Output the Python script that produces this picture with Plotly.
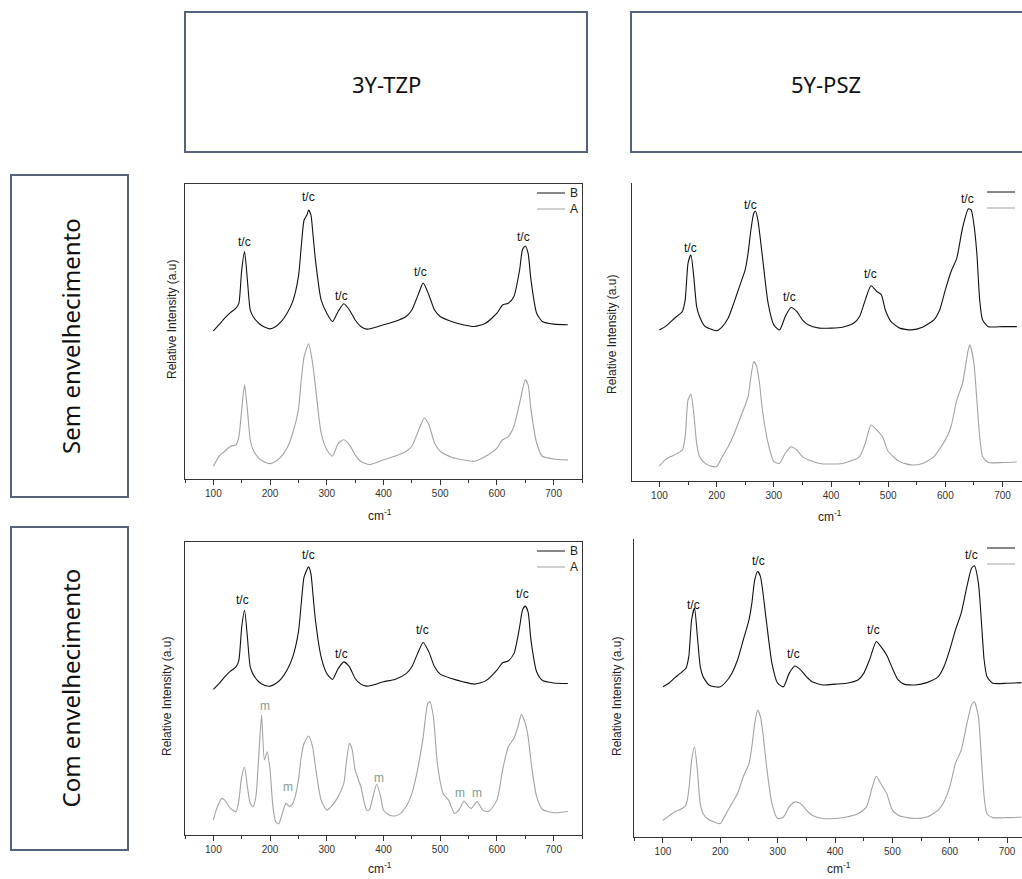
import plotly.graph_objects as go

W, H = 1022, 879

# ---------------- data ----------------
# Panel: 3Y-TZP, sem envelhecimento
tl_b_x = [100,110,120,130,140,145,150,155,160,165,170,180,190,200,210,220,230,240,250,255,260,265,268,272,276,280,290,300,310,320,330,340,350,360,370,380,400,420,440,450,460,470,480,490,500,520,540,560,580,600,610,620,630,640,645,650,655,660,670,680,700,725]
tl_b_y = [50.2,52.3,54.5,56.4,57.9,59.6,70.9,77.1,67.5,57.3,55.1,52.8,51.5,50.9,51.7,53.4,56.2,60.2,68.6,78.8,87.8,89.5,91.2,89.5,82.2,74.3,60.7,56.2,53.4,56.8,59.4,57.3,53.9,51.7,50.8,51.1,52.3,53.4,55.1,57.3,61.9,66.4,62.4,57.3,55.1,53.4,52.3,51.7,52.8,56.2,59.0,59.6,61.9,70.9,77.7,79.0,76.5,67.5,56.2,53.4,52.5,52.3]
tl_a_x = [100,110,120,130,140,145,150,155,160,165,170,180,190,200,210,220,230,240,250,255,260,268,275,280,290,300,310,320,330,340,350,360,375,400,420,440,450,460,472,480,490,500,520,540,560,580,600,610,620,630,640,650,655,660,670,680,700,725]
tl_a_y = [4.3,7.7,9.4,11.1,11.6,14.4,23.5,31.9,23.5,13.3,9.9,7.1,5.8,5.2,6.0,7.7,10.5,15.6,23.5,33.6,41.5,45.8,39.3,31.4,15.6,9.9,7.7,12.0,13.3,11.6,8.2,6.0,4.9,6.5,7.7,9.4,11.1,15.6,20.7,18.4,12.2,9.4,7.4,6.5,6.0,7.7,10.5,13.3,14.4,17.8,25.7,33.6,31.9,23.5,12.2,7.7,6.8,6.5]

# Panel: 5Y-PSZ, sem envelhecimento
tr_b_x = [100,110,120,130,140,145,150,155,160,165,170,180,190,200,210,220,230,240,250,255,260,265,268,272,280,290,300,310,320,330,340,350,360,380,400,420,440,450,460,470,480,488,495,505,520,540,560,580,590,600,610,620,630,640,645,650,655,660,665,675,700,725]
tr_b_y = [50.7,51.8,53.5,55.2,56.9,60.8,73.1,75.9,68.6,58.6,55.2,51.8,51.0,50.4,51.8,54.6,59.7,65.3,70.9,76.5,84.3,89.9,90.5,87.7,75.4,59.7,52.4,50.7,55.2,58.2,56.9,54.1,52.4,51.3,51.3,51.6,53.0,55.2,60.8,65.5,63.6,62.5,57.4,53.5,51.3,50.7,51.6,54.1,57.4,64.2,70.3,74.8,84.9,91.3,91.0,86.0,76.5,60.8,54.1,51.8,51.8,51.8]
tr_a_x = [100,110,120,130,140,145,150,155,160,165,170,180,190,200,210,220,230,240,250,255,260,265,270,275,280,290,300,310,320,330,340,350,360,380,400,420,440,450,460,470,480,490,500,520,540,560,580,600,610,620,630,640,643,650,655,660,665,675,700,725]
tr_a_y = [5.0,7.1,8.2,9.1,10.4,14.9,27.2,29.2,22.7,12.7,8.2,5.9,5.0,4.8,8.2,11.5,15.5,20.5,25.5,28.3,35.1,40.1,38.4,32.8,23.9,12.7,6.5,5.9,9.3,11.5,10.4,8.2,7.1,5.9,5.7,5.9,7.1,8.2,12.7,18.8,17.1,14.9,9.9,6.5,5.4,5.9,8.2,13.8,18.3,27.2,32.8,44.0,45.7,39.4,27.2,14.9,8.2,6.2,6.2,6.4]

# Panel: 3Y-TZP, com envelhecimento
bl_b_x = [100,110,120,130,140,145,150,155,160,165,170,180,190,200,210,220,230,240,250,255,260,268,272,276,280,290,300,310,320,330,340,350,360,370,380,400,420,440,450,460,470,480,490,500,520,540,560,580,600,610,620,630,640,645,650,655,660,670,680,700,725]
bl_b_y = [49.7,51.7,54.0,55.9,57.4,59.7,71.0,76.7,67.6,57.4,54.9,52.3,51.1,50.8,51.7,53.4,56.3,60.8,69.3,79.0,88.1,91.5,89.2,81.3,73.3,60.8,55.1,53.1,56.8,59.1,57.4,53.4,51.5,50.8,51.1,52.3,53.1,55.1,57.4,61.9,65.7,62.5,57.4,54.9,53.4,52.3,51.5,52.6,56.3,58.8,59.4,61.9,71.0,76.7,78.1,76.1,66.5,55.7,52.8,51.9,51.7]
bl_a_x = [100,105,115,120,130,140,145,150,155,160,165,170,175,180,185,190,195,200,205,210,215,220,228,235,240,245,250,255,260,268,275,280,290,300,310,320,330,335,340,345,350,360,370,375,380,388,395,400,410,420,430,440,450,460,470,478,482,488,495,505,515,525,533,542,550,555,565,575,585,600,610,620,630,637,643,650,655,662,670,680,700,725]
bl_a_y = [5.1,8.5,12.5,11.9,9.1,8.0,11.9,19.9,23.1,16.5,10.8,9.7,13.1,26.7,40.9,25.6,28.4,22.2,9.7,4.5,3.8,6.3,10.8,9.7,10.8,13.6,18.8,26.7,31.3,33.8,30.1,23.3,11.9,8.5,10.2,13.1,17.6,25.6,31.3,29.0,22.2,16.5,8.5,8.5,11.9,17.3,13.1,8.5,6.8,6.5,7.4,9.7,14.2,22.2,33.5,44.9,45.5,40.3,24.4,14.2,11.9,7.4,8.5,11.6,9.7,9.1,11.4,8.5,8.0,11.9,22.2,30.1,33.0,36.9,41.1,38.1,33.5,22.2,13.1,8.8,7.6,8.0]

# Panel: 5Y-PSZ, com envelhecimento
br_b_x = [100,110,120,130,140,145,150,155,160,165,170,180,190,200,210,220,230,240,250,255,260,265,270,280,290,300,310,320,330,340,350,360,380,400,420,440,450,460,472,480,490,500,510,520,540,560,580,590,600,610,620,630,638,643,650,655,660,665,675,700,725]
br_b_y = [50.4,51.6,53.3,54.9,56.6,60.5,72.9,76.8,67.3,57.2,53.8,51.0,50.4,50.4,52.1,54.9,59.4,66.1,72.9,78.5,86.3,89.1,87.4,72.9,58.3,51.6,50.4,54.9,57.4,56.1,53.8,52.1,51.0,51.3,51.6,52.7,54.9,59.4,65.6,63.9,61.1,56.6,52.7,51.3,51.0,51.8,53.8,57.2,62.8,69.5,75.1,84.1,90.2,91.0,85.2,72.9,59.4,53.8,51.6,51.6,51.8]
br_a_x = [100,110,120,130,140,145,150,155,160,165,170,180,190,200,210,220,230,240,250,255,260,265,270,275,280,290,300,310,320,330,340,350,360,380,400,420,440,455,465,472,480,490,500,510,520,540,560,580,590,600,610,620,630,638,643,650,655,660,665,675,700,725]
br_a_y = [5.6,7.0,8.4,9.2,10.7,15.7,25.8,30.3,22.4,11.2,7.8,5.8,5.0,4.5,7.8,11.2,14.6,20.2,24.7,30.3,38.1,42.6,40.4,33.6,24.7,11.2,6.2,6.7,10.1,11.8,11.2,9.0,7.3,6.2,6.2,6.7,7.8,10.1,16.8,20.4,17.9,14.6,9.0,7.3,6.7,6.2,6.7,9.0,11.8,16.8,24.7,29.1,38.1,44.3,45.4,40.4,26.9,13.5,7.8,6.5,6.5,6.7]

# peak labels (x, y) per panel
tl_tc = [(155, 80.5), (267, 95.5), (326, 61.9), (466, 70.0), (646, 82.2)]
tr_tc = [(155, 78.2), (260, 92.7), (328, 61.6), (469, 69.5), (638, 94.6)]
bl_tc = [(152, 80.3), (268, 95.5), (326, 61.7), (468, 69.9), (645, 82.2)]
br_tc = [(153, 77.9), (267, 92.5), (327, 61.4), (467, 69.5), (638, 94.7)]
bl_m = [(191, 44.1), (231, 16.3), (392, 19.5), (535, 14.5), (565, 14.5)]

col_titles = ["3Y-TZP", "5Y-PSZ"]
row_titles = ["Sem envelhecimento", "Com envelhecimento"]
series_names = ["B", "A"]
x_title = "cm<sup>-1</sup>"
y_title = "Relative Intensity (a.u)"
tick_vals = [100, 200, 300, 400, 500, 600, 700]

BLACK = "#111111"
GRAY = "#a3a3a3"
BOX = "#56627a"
MCOL = "#7f9a8c"
FONT = "Arial, Liberation Sans"

def px(x):
    return x / W

def py(y):
    return 1 - y / H

# panel geometry: (left, right, top, bottom) in px, x range
panels = [
    dict(name="1", l=185, r=582, t=184, b=479, xr=[50, 750], bx=tl_b_x, by=tl_b_y, ax=tl_a_x, ay=tl_a_y, tc=tl_tc, mirror=True, xt=380, xty=515, yt=320, ytx=172),
    dict(name="2", l=632, r=1022, t=183, b=481, xr=[52, 734], bx=tr_b_x, by=tr_b_y, ax=tr_a_x, ay=tr_a_y, tc=tr_tc, mirror=False, xt=830, xty=516, yt=335, ytx=612),
    dict(name="3", l=185, r=582, t=542, b=835, xr=[50, 750], bx=bl_b_x, by=bl_b_y, ax=bl_a_x, ay=bl_a_y, tc=bl_tc, mirror=True, xt=380, xty=868, yt=697, ytx=167),
    dict(name="4", l=634, r=1022, t=539, b=837, xr=[49.5, 726], bx=br_b_x, by=br_b_y, ax=br_a_x, ay=br_a_y, tc=br_tc, mirror=False, xt=839, xty=868, yt=697, ytx=617),
]

fig = go.Figure()
layout = dict(width=W, height=H, margin=dict(l=0, r=0, t=0, b=0),
              paper_bgcolor="white", plot_bgcolor="white", showlegend=False)
annotations = []
shapes = []

for p in panels:
    n = p["name"]
    xa = "x" if n == "1" else "x" + n
    ya = "y" if n == "1" else "y" + n
    xkey = "xaxis" if n == "1" else "xaxis" + n
    ykey = "yaxis" if n == "1" else "yaxis" + n
    fig.add_trace(go.Scatter(x=p["bx"], y=p["by"], mode="lines", name=series_names[0],
                             line=dict(color=BLACK, width=1.1, shape="spline", smoothing=0.6),
                             xaxis=xa, yaxis=ya))
    fig.add_trace(go.Scatter(x=p["ax"], y=p["ay"], mode="lines", name=series_names[1],
                             line=dict(color=GRAY, width=1.1, shape="spline", smoothing=0.6),
                             xaxis=xa, yaxis=ya))
    layout[xkey] = dict(domain=[px(p["l"]), px(p["r"])], range=p["xr"], anchor=ya,
                        showgrid=False, zeroline=False, showline=True, linecolor="#333", linewidth=1,
                        mirror=p["mirror"], ticks="outside", ticklen=5, tickcolor="#333",
                        tickvals=tick_vals, tickfont=dict(family=FONT, size=10, color="#333"),
                        minor=dict(dtick=50, tick0=0, ticks="outside", ticklen=3, tickcolor="#333"))
    layout[ykey] = dict(domain=[py(p["b"]), py(p["t"])], range=[0, 100], anchor=xa,
                        showgrid=False, zeroline=False, showline=True, linecolor="#333", linewidth=1,
                        mirror=p["mirror"], showticklabels=False, ticks="")
    for (tx, ty) in p["tc"]:
        annotations.append(dict(x=tx, y=ty, xref=xa, yref=ya, text="t/c", showarrow=False,
                                xanchor="center", yanchor="middle",
                                font=dict(family=FONT, size=12, color="#111")))
    # axis titles
    annotations.append(dict(x=px(p["xt"]), y=py(p["xty"]), xref="paper", yref="paper", text=x_title,
                            xanchor="center", yanchor="middle", showarrow=False,
                            font=dict(family=FONT, size=12, color="#222")))
    annotations.append(dict(x=px(p["ytx"]), y=py(p["yt"]), xref="paper", yref="paper",
                            text=y_title, textangle=-90, showarrow=False,
                            xanchor="center", yanchor="middle",
                            font=dict(family=FONT, size=12, color="#222")))
    # legend keys
    lx0 = p["r"] - 45 if p["mirror"] else p["r"] - 35
    for k, (col, nm) in enumerate([(BLACK, series_names[0]), (GRAY, series_names[1])]):
        yy = p["t"] + 9 + 16 * k
        shapes.append(dict(type="line", xref="paper", yref="paper", x0=px(lx0), x1=px(lx0 + 28),
                           y0=py(yy), y1=py(yy), line=dict(color=col, width=1)))
        if p["mirror"]:
            annotations.append(dict(x=px(lx0 + 31), y=py(yy), xref="paper", yref="paper", text=nm,
                                    xanchor="left", yanchor="middle", showarrow=False,
                                    font=dict(family=FONT, size=12, color="#222")))

for (mx, my) in bl_m:
    annotations.append(dict(x=mx, y=my, xref="x3", yref="y3", text="m", showarrow=False,
                            xanchor="center", yanchor="middle",
                            font=dict(family=FONT, size=12, color=MCOL)))

# header boxes
hdr = [(185, 587, 386), (631, 1040, 826)]
for (x0, x1, xc), t in zip(hdr, col_titles):
    shapes.append(dict(type="rect", xref="paper", yref="paper", x0=px(x0), x1=px(x1), y0=py(152), y1=py(12),
                       line=dict(color=BOX, width=2)))
    annotations.append(dict(x=px(xc), y=py(84), xref="paper", yref="paper", text=t, showarrow=False,
                            xanchor="center", yanchor="middle",
                            font=dict(family="Noto Sans, Open Sans", size=22, color="#111")))

rows = [(175, 497), (527, 850)]
for (y0, y1), t in zip(rows, row_titles):
    shapes.append(dict(type="rect", xref="paper", yref="paper", x0=px(11), x1=px(128), y0=py(y1), y1=py(y0),
                       line=dict(color=BOX, width=2)))
    annotations.append(dict(x=px(70), y=py((y0 + y1) / 2), xref="paper", yref="paper", text=t,
                            textangle=-90, showarrow=False, xanchor="center", yanchor="middle",
                            font=dict(family="Noto Sans, Open Sans", size=24, color="#111")))

layout["annotations"] = annotations
layout["shapes"] = shapes
fig.update_layout(**layout)
fig.write_html("out.html")
